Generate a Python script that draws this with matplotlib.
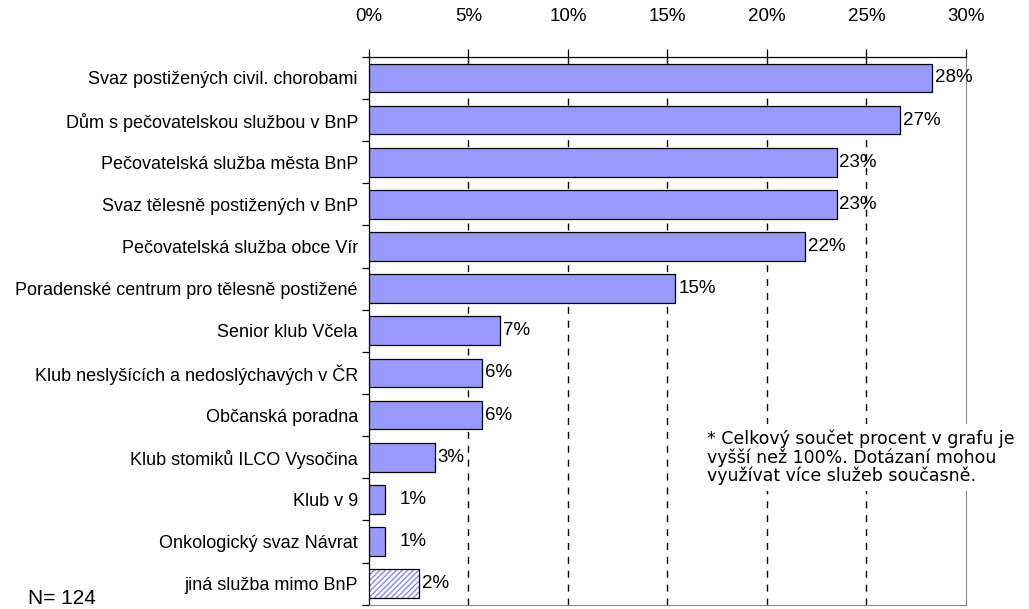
import matplotlib
matplotlib.use("Agg")

import matplotlib.pyplot as plt
import numpy as np

categories = [
    "Svaz postižených civil. chorobami",
    "Dům s pečovatelskou službou v BnP",
    "Pečovatelská služba města BnP",
    "Svaz tělesně postižených v BnP",
    "Pečovatelská služba obce Vír",
    "Poradenské centrum pro tělesně postižené",
    "Senior klub Včela",
    "Klub neslyšících a nedoslýchavých v ČR",
    "Občanská poradna",
    "Klub stomiků ILCO Vysočina",
    "Klub v 9",
    "Onkologický svaz Návrat",
    "jiná služba mimo BnP",
]
values = [28.3, 26.7, 23.5, 23.5, 21.9, 15.4, 6.6, 5.7, 5.7, 3.3, 0.8, 0.8, 2.5]
labels = ["28%", "27%", "23%", "23%", "22%", "15%", "7%", "6%", "6%", "3%", "1%", "1%", "2%"]
xticks = [0, 5, 10, 15, 20, 25, 30]

plt.rcParams["font.family"] = ["Liberation Sans", "DejaVu Sans"]

fig = plt.figure(figsize=(10.29, 6.09), dpi=100)
ax = fig.add_axes([0.3586, 0.007, 0.58, 0.8997])

y = np.arange(len(categories))
bar_h = 0.68
n = len(categories)

# regular bars
ax.barh(y[:-1], values[:-1], height=bar_h, color="#9999ff",
        edgecolor="black", linewidth=0.9, zorder=3)
# hatched bar for the last category
ax.barh(y[-1], values[-1], height=bar_h, color="white",
        edgecolor="#8888ee", hatch="//////", linewidth=0, zorder=3)
ax.barh(y[-1], values[-1], height=bar_h, fill=False,
        edgecolor="black", linewidth=0.9, zorder=4)

for i, (v, lab) in enumerate(zip(values, labels)):
    off = 0.15
    if v < 1.5:
        off = 0.75
    ax.text(v + off, i, lab, va="center", ha="left", fontsize=13.5, zorder=5)

ax.set_ylim(n - 0.5, -0.5)
ax.set_xlim(0, 30)

ax.xaxis.tick_top()
ax.set_xticks(xticks)
ax.set_xticklabels([f"{t}%" for t in xticks], fontsize=13.5)
ax.tick_params(axis="x", direction="out", length=6, width=0.9, pad=17)

ax.set_yticks(y)
ax.set_yticklabels(categories, fontsize=13)
ax.tick_params(axis="y", length=0, pad=8)
ax.set_yticks(np.arange(n + 1) - 0.5, minor=True)
ax.tick_params(axis="y", which="minor", length=5, width=0.9, direction="out")

for xv in xticks[1:-1]:
    ax.axvline(xv, color="black", linestyle=(0, (5, 5)), linewidth=1.0, zorder=1)

ax.spines["top"].set_linewidth(0.9)
ax.spines["left"].set_linewidth(0.9)
ax.spines["right"].set_color("#888888")
ax.spines["bottom"].set_color("#888888")

ax.text(0.687, 0.249,
        "* Celkový součet procent v grafu je\nvyšší než 100%. Dotázaní mohou\nvyužívat více služeb současně.",
        transform=fig.transFigure, fontsize=12.5, family="DejaVu Sans",
        va="center", ha="left", linespacing=1.0,
        bbox=dict(facecolor="white", edgecolor="none", pad=4), zorder=6)

fig.text(0.027, 0.018, "N= 124", fontsize=15, va="center", ha="left")

fig.savefig("out.png", dpi=100)
